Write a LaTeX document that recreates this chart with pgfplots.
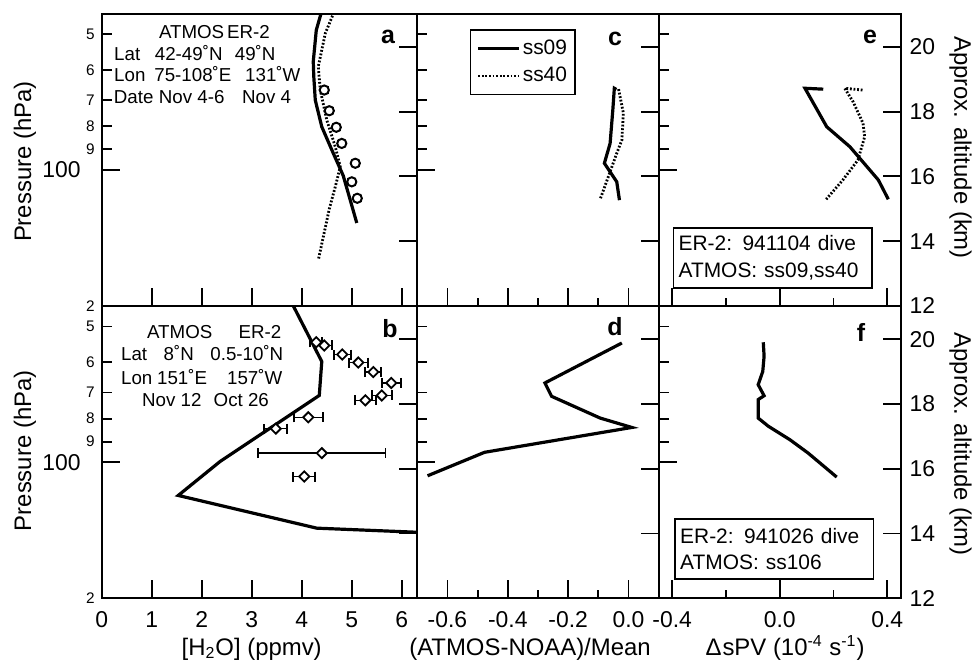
\documentclass[border=0pt]{standalone}
\usepackage{pgfplots}
\pgfplotsset{compat=1.18}
\usepackage{fontspec}
\setmainfont{Liberation Sans}
\newcommand{\tickfont}{\fontsize{11.5}{13}\selectfont}
\newcommand{\smallfont}{\fontsize{7.7}{9}\selectfont}
\newcommand{\labfont}{\fontsize{12}{14}\selectfont}
\newcommand{\txtfont}{\fontsize{9.4}{11}\selectfont}
\newcommand{\boxfont}{\fontsize{10.5}{13.3}\selectfont}
\newcommand{\letfont}{\bfseries\fontsize{12.5}{14}\selectfont}
\pgfplotsset{
  hpanel/.style={
    scale only axis, anchor=north west, height=146.2bp,
    axis line style={line width=1bp},
    tick style={line width=0.9bp, black},
    tick align=inside, xtick pos=bottom, ytick pos=left,
    major tick length=9bp, minor tick length=4bp,
    ytick={100}, yticklabels={100\kern7bp},
    yticklabel style={font=\tickfont},
    extra y ticks={50,60,70,80,90,200},
    extra y tick labels={5,6,7,8,9,2},
    extra y tick style={major tick length=5bp, yticklabel style={font=\smallfont}},
    xticklabel style={font=\tickfont, yshift=-3bp},
  },
  hnolabels/.style={yticklabels={}, extra y tick labels={}},
  haxis/.style={
    scale only axis, anchor=north west, height=146.2bp,
    hide x axis, xmin=0, xmax=1, ymin=12, ymax=21.03, ytick={12,14,16,18,20},
    ytick pos=right, tick align=inside, major tick length=9bp,
    tick style={line width=0.9bp, black}, axis line style={line width=1bp},
    yticklabels={},
  },
  ssolid/.style={line width=1.6bp, black, no markers},
  sdot/.style={line width=1.4bp, black, no markers, dash pattern=on 0.9bp off 0.9bp},
}
\begin{document}
\begin{tikzpicture}
\path[use as bounding box] (0,0) rectangle (487.5bp,332bp);
% ---------------- panel a
\begin{axis}[hpanel, ymode=log, y dir=reverse, ymin=45, ymax=200,
  at={(50.85bp,325.25bp)}, width=157.8bp,
  xmin=0, xmax=6.31, xtick={0,1,2,3,4,5,6}, xticklabels={}]
\addplot[ssolid] coordinates {(4.41,44) (4.29,49) (4.23,57.5) (4.24,62) (4.27,70) (4.40,80.2) (4.63,91.8) (4.83,103) (5.10,131)};
\addplot[sdot] coordinates {(4.67,44) (4.47,49.8) (4.33,59) (4.37,66.5) (4.50,77.5) (4.67,88.8) (4.77,98.3) (4.67,108.9) (4.55,122) (4.33,158.4)};
\addplot[only marks, mark=*, mark size=2.3bp, mark options={line width=1bp, draw=black, fill=white},
  error bars/.cd, x dir=both, x fixed=0.07,
  error mark options={rotate=90, mark size=1.8bp, line width=0.8bp, black},
  error bar style={line width=0.8bp, black}]
  coordinates {(4.45,66.5) (4.55,73.9) (4.69,80.4) (4.80,87.3) (5.07,96.6) (5.00,106.2) (5.11,115.5)};
\end{axis}
\begin{axis}[haxis, at={(50.85bp,325.25bp)}, width=157.8bp]\end{axis}
% ---------------- panel c
\begin{axis}[hpanel, hnolabels, ymode=log, y dir=reverse, ymin=45, ymax=200,
  at={(208.65bp,325.25bp)}, width=120.7bp,
  xmin=-0.70, xmax=0.10, xtick={-0.6,-0.4,-0.2,0}, minor xtick={-0.5,-0.3,-0.1}, xticklabels={},
  legend style={at={(0.218,0.946)}, anchor=north west, draw=black, line width=0.7bp,
    font=\boxfont, inner xsep=3bp, inner ysep=4bp, row sep=2.8bp,
    nodes={inner sep=1bp}, cells={anchor=west}},
  legend image code/.code={\draw[#1] (0bp,0bp) -- (20.5bp,0bp);}]
\addplot[ssolid] coordinates {(-0.040,66.3) (-0.047,65.9) (-0.052,73.6) (-0.061,87.3) (-0.080,96.6) (-0.039,106.2) (-0.030,116.6)};
\addlegendentry{ss09}
\addplot[sdot] coordinates {(-0.033,66.2) (-0.017,74.8) (-0.022,85.8) (-0.039,91.8) (-0.067,103.5) (-0.094,116.1)};
\addlegendentry{ss40}
\end{axis}
\begin{axis}[haxis, at={(208.65bp,325.25bp)}, width=120.7bp]\end{axis}
% ---------------- panel e
\begin{axis}[hpanel, hnolabels, ymode=log, y dir=reverse, ymin=45, ymax=200,
  at={(329.35bp,325.25bp)}, width=121bp,
  xmin=-0.45, xmax=0.45, xtick={-0.4,0,0.4}, minor xtick={-0.2,0.2}, xticklabels={}]
\addplot[ssolid] coordinates {(0.162,66.2) (0.094,65.9) (0.175,80.2) (0.261,88.8) (0.367,105.2) (0.404,116.1)};
\addplot[sdot] coordinates {(0.308,66.5) (0.242,65.9) (0.273,70.6) (0.310,78.8) (0.316,84.4) (0.291,95.0) (0.235,105.2) (0.173,116.1)};
\end{axis}
\begin{axis}[haxis, at={(329.35bp,325.25bp)}, width=121bp,
  yticklabels={12,14,16,18,20}, yticklabel style={font=\tickfont, xshift=1bp}]\end{axis}
% ---------------- panel b
\begin{axis}[hpanel, ymode=log, y dir=reverse, ymin=45, ymax=200,
  at={(50.85bp,179.1bp)}, width=157.8bp,
  xmin=0, xmax=6.31, xtick={0,1,2,3,4,5,6}, xticklabels={0,1,2,3,4,5,6}]
\addplot[ssolid] coordinates {(3.83,45) (4.40,59.8) (4.35,71.1) (2.37,99.5) (1.53,118.4) (4.30,139.9) (6.4,143)};
\addplot[only marks, mark=square*, mark size=1.8bp, mark options={rotate=45, line width=0.9bp, draw=black, fill=white},
  error bars/.cd, x dir=both, x explicit,
  error mark options={rotate=90, mark size=2.5bp, line width=0.8bp, black},
  error bar style={line width=0.8bp, black}]
  coordinates {(4.29,54.2) +- (0.12,0) (4.45,55.1) +- (0.16,0) (4.81,57.7) +- (0.17,0) (5.13,60.1) +- (0.19,0)
    (5.43,63.1) +- (0.16,0) (5.79,66.7) +- (0.19,0) (5.60,71.1) +- (0.20,0) (5.27,72.9) +- (0.21,0)
    (4.13,79.5) +- (0.29,0) (3.48,84.2) +- (0.23,0) (4.40,95.4) +- (1.27,0) (4.05,107.5) +- (0.22,0)};
\end{axis}
\begin{axis}[haxis, at={(50.85bp,179.1bp)}, width=157.8bp]\end{axis}
% ---------------- panel d
\begin{axis}[hpanel, hnolabels, ymode=log, y dir=reverse, ymin=45, ymax=200,
  at={(208.65bp,179.1bp)}, width=120.7bp,
  xmin=-0.70, xmax=0.10, xtick={-0.6,-0.4,-0.2,0}, minor xtick={-0.5,-0.3,-0.1},
  xticklabels={-0.6,-0.4,-0.2,0.0}]
\addplot[ssolid] coordinates {(-0.022,54.4) (-0.277,66.7) (-0.255,71.4) (-0.094,79.8) (0.011,83.7) (-0.477,95.0) (-0.666,107.1)};
\end{axis}
\begin{axis}[haxis, at={(208.65bp,179.1bp)}, width=120.7bp]\end{axis}
% ---------------- panel f
\begin{axis}[hpanel, hnolabels, ymode=log, y dir=reverse, ymin=45, ymax=200,
  at={(329.35bp,179.1bp)}, width=121bp,
  xmin=-0.45, xmax=0.45, xtick={-0.4,0,0.4}, minor xtick={-0.2,0.2},
  xticklabels={-0.4,0.0,0.4}]
\addplot[ssolid] coordinates {(-0.061,54.2) (-0.058,58.2) (-0.063,62.9) (-0.080,67.3) (-0.058,71.2) (-0.080,72.6) (-0.080,79.8) (-0.042,83.2) (0.038,89.1) (0.106,95.4) (0.212,107.8)};
\end{axis}
\begin{axis}[haxis, at={(329.35bp,179.1bp)}, width=121bp,
  yticklabels={12,14,16,18,20}, yticklabel style={font=\tickfont, xshift=1bp}]\end{axis}
% ---------------- labels
\node[font=\labfont, rotate=90] at (12.5bp,251.2bp) {Pressure (hPa)};
\node[font=\labfont, rotate=90] at (12.5bp,106.6bp) {Pressure (hPa)};
\node[font=\labfont, rotate=-90] at (480.25bp,258.25bp) {Approx. altitude (km)};
\node[font=\labfont, rotate=-90] at (480.25bp,110bp) {Approx. altitude (km)};
\node[font=\labfont, anchor=base] at (125.85bp,4.5bp) {[H\textsubscript{2}O] (ppmv)};
\node[font=\labfont, anchor=base] at (265bp,4.5bp) {(ATMOS-NOAA)/Mean};
\node[font=\labfont, anchor=base] at (392.5bp,4.5bp) {Δ\kern0.5pt sPV (10\textsuperscript{-4} s\textsuperscript{-1})};
% panel letters
\node[font=\letfont] at (194bp,313.6bp) {a};
\node[font=\letfont] at (307.5bp,312.3bp) {c};
\node[font=\letfont] at (435bp,313.3bp) {e};
\node[font=\letfont] at (195bp,167.5bp) {b};
\node[font=\letfont] at (307.5bp,168.5bp) {d};
\node[font=\letfont] at (430.5bp,166bp) {f};
% panel a text
\begin{scope}[every node/.style={font=\txtfont, anchor=base west, inner sep=0pt}]
\node at (79.3bp,312.65bp) {ATMOS};   \node at (113.4bp,312.65bp) {ER-2};
\node at (56.9bp,301.85bp) {Lat};     \node at (77.25bp,301.85bp) {42-49˚N}; \node at (117.25bp,301.85bp) {49˚N};
\node at (56.9bp,291bp) {Lon};        \node at (77bp,291bp) {75-108˚E};      \node at (122.4bp,291bp) {131˚W};
\node at (56.75bp,280.15bp) {Date};   \node at (79.25bp,280.15bp) {Nov 4-6}; \node at (120.9bp,280.15bp) {Nov 4};
% panel b text
\node at (73.35bp,162.85bp) {ATMOS};  \node at (119.15bp,162.85bp) {ER-2};
\node at (60.35bp,151.5bp) {Lat};     \node at (81.65bp,151.5bp) {8˚N};      \node at (105bp,151.5bp) {0.5-10˚N};
\node at (60.35bp,139.85bp) {Lon};    \node at (78.35bp,139.85bp) {151˚E};   \node at (113.35bp,139.85bp) {157˚W};
\node at (70.85bp,128.65bp) {Nov 12}; \node at (106.65bp,128.65bp) {Oct 26};
\end{scope}
% boxes
\node[draw, line width=0.7bp, anchor=north west, text width=94bp, minimum height=30bp, inner xsep=2.6bp, inner ysep=0bp, align=left, font=\boxfont] at (336.35bp,218.35bp) {ER-2: 941104 dive\\ATMOS: ss09,ss40};
\node[draw, line width=0.7bp, anchor=north west, text width=94bp, minimum height=30bp, inner xsep=2.6bp, inner ysep=0bp, align=left, font=\boxfont] at (337.15bp,72.85bp) {ER-2: 941026 dive\\ATMOS: ss106};
\end{tikzpicture}
\end{document}
